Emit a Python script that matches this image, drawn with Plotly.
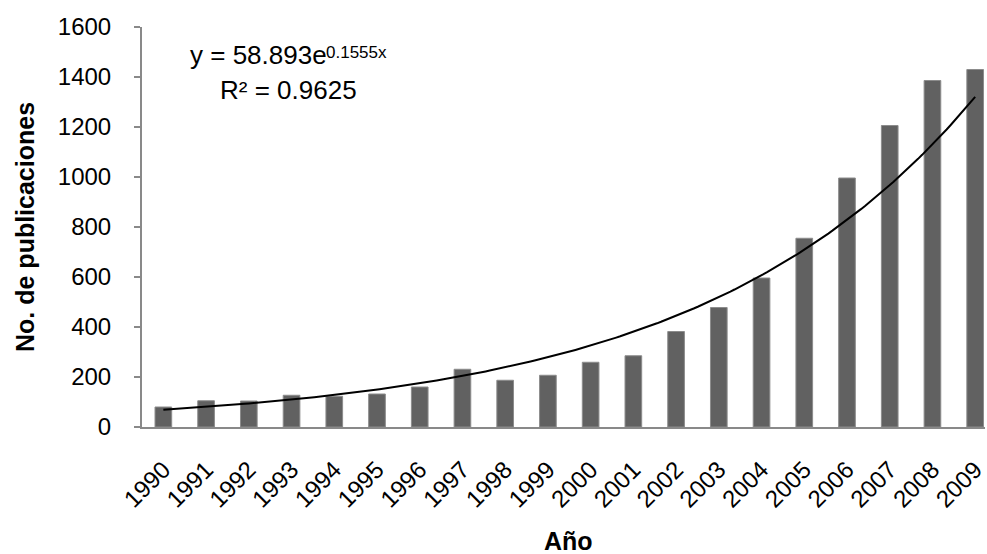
import numpy as np
import plotly.graph_objects as go

# Publicaciones por año
years = [1990, 1991, 1992, 1993, 1994, 1995, 1996, 1997, 1998, 1999,
         2000, 2001, 2002, 2003, 2004, 2005, 2006, 2007, 2008, 2009]
publicaciones = [80, 105, 104, 127, 123, 132, 160, 231, 187, 207,
                 259, 285, 382, 478, 596, 755, 996, 1206, 1386, 1430]
year_labels = [str(y) for y in years]
y_ticks = [0, 200, 400, 600, 800, 1000, 1200, 1400, 1600]

# Exponential trend line: y = a * exp(b * x), x = 1..20
trend_a = 58.893
trend_b = 0.1555
r_squared = 0.9625

xs = np.linspace(1, len(years), 200)
trend_x = years[0] - 1 + xs
trend_y = trend_a * np.exp(trend_b * xs)

font_family = "Liberation Sans, Arial, sans-serif"
axis_gray = "#898989"

W, H = 987, 554
plot_l, plot_r, plot_t, plot_b = 142, 987, 27, 427


def px_to_paper(px, py):
    return ((px - plot_l) / (plot_r - plot_l), 1 - (py - plot_t) / (plot_b - plot_t))


fig = go.Figure()
fig.add_trace(go.Bar(
    x=years, y=publicaciones, width=0.39,
    marker=dict(color="#616161", line=dict(color="#8c8c8c", width=1)),
    showlegend=False,
))
fig.add_trace(go.Scatter(
    x=trend_x, y=trend_y, mode="lines",
    line=dict(color="black", width=2), showlegend=False,
))

fig.update_layout(
    width=W, height=H,
    margin=dict(l=plot_l, r=W - plot_r, t=plot_t, b=H - plot_b),
    paper_bgcolor="white", plot_bgcolor="white",
    font=dict(family=font_family, color="black"),
)
fig.update_xaxes(
    range=[1989.5, 2009.23], tickvals=years, ticktext=year_labels,
    tickangle=-45, tickfont=dict(size=24), showgrid=False,
    showline=True, linecolor=axis_gray, linewidth=2,
    ticks="", zeroline=False, ticklabelstandoff=17,
    ticklabeloverflow="allow",
)
fig.update_yaxes(
    range=[0, 1600], tickvals=y_ticks, tickfont=dict(size=24),
    showgrid=False, showline=True, linecolor=axis_gray, linewidth=2,
    ticks="outside", ticklen=6, tickcolor=axis_gray, tickwidth=2,
    zeroline=False, ticklabelstandoff=18,
)

# Axis titles
ax, ay = px_to_paper(24, 226.7)
fig.add_annotation(x=ax, y=ay, xref="paper", yref="paper",
                   text="<b>No. de publicaciones</b>", showarrow=False,
                   textangle=-90, font=dict(size=25), xanchor="center", yanchor="middle")
ax, ay = px_to_paper(570, 541)
fig.add_annotation(x=ax, y=ay, xref="paper", yref="paper", text="<b>Año</b>",
                   showarrow=False, font=dict(size=25), xanchor="center", yanchor="middle")

# Trend line equation and R²
ax, ay = px_to_paper(329, 55)
fig.add_annotation(x=ax, y=ay, xref="paper", yref="paper",
                   text=f"y = {trend_a}e",
                   showarrow=False, font=dict(size=26), xanchor="right", yanchor="middle")
ax, ay = px_to_paper(324, 52)
fig.add_annotation(x=ax, y=ay, xref="paper", yref="paper",
                   text=f"{trend_b}x",
                   showarrow=False, font=dict(size=17), xanchor="left", yanchor="middle")
ax, ay = px_to_paper(289, 90)
fig.add_annotation(x=ax, y=ay, xref="paper", yref="paper",
                   text=f"R² = {r_squared}",
                   showarrow=False, font=dict(size=26), xanchor="center", yanchor="middle")

fig.write_html("out.html")
